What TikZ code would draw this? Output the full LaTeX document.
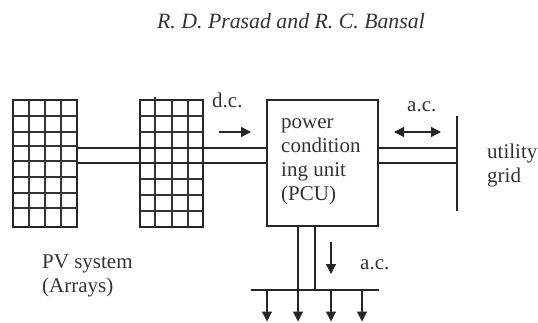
\documentclass[tikz,border=0pt]{standalone}
\usepackage{fontspec}
\setmainfont{Liberation Serif}
\usetikzlibrary{arrows.meta}
\tikzset{
 x=1pt,y=-1pt,
 ln/.style={line width=1.5pt,black!85},
 thin grid/.style={line width=1.2pt,black!80},
 arr/.style={line width=1.2pt,black!85,-{Triangle[length=10pt,width=10pt]}},
 darr/.style={line width=1.2pt,black!85,{Triangle[length=10pt,width=10pt]}-{Triangle[length=10pt,width=10pt]}},
 lab/.style={inner sep=0pt,anchor=base west,font=\fontsize{21}{24}\selectfont,text=black!80},
}
\begin{document}
\begin{tikzpicture}
\useasboundingbox (0,0) rectangle (538,322);
\node[lab,anchor=base,font=\fontsize{21.8}{24}\selectfont\itshape] (title) at (291,28) {R. D. Prasad and R. C. Bansal};
% arrays
\node[draw,ln,minimum width=64pt,minimum height=127pt,inner sep=0pt] (a1) at (45,163.5) {};
\node[draw,ln,minimum width=63pt,minimum height=127pt,inner sep=0pt] (a2) at (171.5,163.5) {};
\foreach \x in {29,45,61} \draw[thin grid] (\x,100) -- (\x,227);
\foreach \y in {116,132,146,161,177,193,208} \draw[thin grid] (13,\y) -- (77,\y);
\foreach \x in {172,188} \draw[thin grid] (\x,100) -- (\x,227);
\draw[thin grid] (155,97) -- (155,227);
\foreach \y in {116,132,179,195,211} \draw[thin grid] (140,\y) -- (203,\y);
% PCU
\node[draw,ln,minimum width=111pt,minimum height=126pt,inner sep=0pt] (pcu) at (322.5,163) {};
\node[lab] (t1) at (281,128) {power};
\node[lab] (t2) at (281,152) {condition};
\node[lab] (t3) at (281,176) {ing unit};
\node[lab] (t4) at (281,200) {(PCU)};
% grid bar
\coordinate (g1) at (457,116);
\coordinate (g2) at (457,211);
\draw[ln] (g1) -- (g2);
% buses
\draw[ln] (a1.east |- 0,148) -- (pcu.west |- 0,148);
\draw[ln] (a1.east |- 0,163) -- (pcu.west |- 0,163);
\draw[ln] (pcu.east |- 0,148) -- (g1 |- 0,148);
\draw[ln] (pcu.east |- 0,163) -- (g1 |- 0,163);
% load bus
\coordinate (b1) at (251,290);
\coordinate (b2) at (379,290);
\draw[ln] (b1) -- (b2);
\draw[ln] (pcu.south -| 298,0) -- (298,290);
\draw[ln] (pcu.south -| 315,0) -- (315,290);
\foreach \x/\n in {267/l1,298/l2,331/l3,362/l4}{
 \coordinate (\n) at (\x,321.5);
 \draw[arr] (\x,290) -- (\n);
}
% flow arrows
\coordinate (d1) at (219,132); \coordinate (d2) at (251,132);
\draw[arr] (d1) -- (d2);
\coordinate (e1) at (394,132); \coordinate (e2) at (441,132);
\draw[darr] (e1) -- (e2);
\coordinate (f1) at (331,242); \coordinate (f2) at (331,274);
\draw[arr] (f1) -- (f2);
% labels
\node[lab] (dc) at (212,107.5) {d.c.};
\node[lab] (ac1) at (407,111) {a.c.};
\node[lab] (ac2) at (360,269) {a.c.};
\node[lab] (u1) at (487,158) {utility};
\node[lab] (u2) at (487,182) {grid};
\node[lab] (p1) at (42,268) {PV system};
\node[lab] (p2) at (42,292) {(Arrays)};
\end{tikzpicture}
\end{document}
